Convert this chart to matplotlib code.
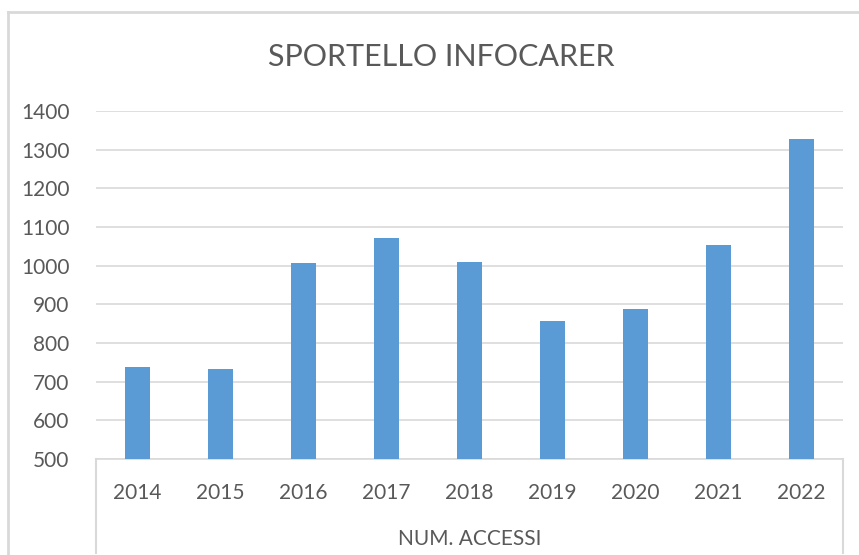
import matplotlib.pyplot as plt
from matplotlib.lines import Line2D

# ---------------- Data ----------------
years = ["2014", "2015", "2016", "2017", "2018", "2019", "2020", "2021", "2022"]
accessi = [738, 733, 1007, 1072, 1009, 857, 888, 1053, 1328]
y_ticks = [500, 600, 700, 800, 900, 1000, 1100, 1200, 1300, 1400]

plt.rcParams['font.family'] = ['Lato', 'DejaVu Sans']

W, H = 859, 555
fig = plt.figure(figsize=(W / 100, H / 100), dpi=100)

# plot area in pixels (left, top, right, bottom)
L, T, R, B = 96, 111, 843, 459
ax = fig.add_axes([L / W, (H - B) / H, (R - L) / W, (B - T) / H])

x = range(len(years))
ax.bar(x, accessi, width=0.31, color="#5B9BD5", zorder=3)

ax.set_xlim(-0.5, len(years) - 0.5)
ax.set_ylim(500, 1400)
ax.set_yticks(y_ticks)
ax.set_xticks(list(x))
ax.set_xticklabels(years)
ax.tick_params(axis="y", length=0, pad=19, labelsize=15, labelcolor="#595959")
ax.tick_params(axis="x", length=0, pad=17, labelsize=15, labelcolor="#595959")
ax.grid(axis="y", color="#D9D9D9", linewidth=1.2, zorder=0)
for s in ["top", "right", "left"]:
    ax.spines[s].set_visible(False)
ax.spines["bottom"].set_color("#D9D9D9")
ax.spines["bottom"].set_linewidth(1.2)

ax.set_xlabel("NUM. ACCESSI", fontsize=15, color="#595959", labelpad=19)

# title
fig.text(441 / W, 1 - 57 / H, "SPORTELLO INFOCARER", ha="center", va="center",
         fontsize=22, color="#595959")

# chart border and category-axis separators
def pline(x0, y0, x1, y1, lw=1.5, color="#D9D9D9"):
    fig.add_artist(Line2D([x0 / W, x1 / W], [1 - y0 / H, 1 - y1 / H],
                          transform=fig.transFigure, color=color, linewidth=lw))

pline(8, 12, W + 5, 12, lw=2)
pline(8, 12, 8, H + 5, lw=2)
pline(L, B, L, 553)
pline(R, B, R, 553)

fig.savefig("out.png", dpi=100)
